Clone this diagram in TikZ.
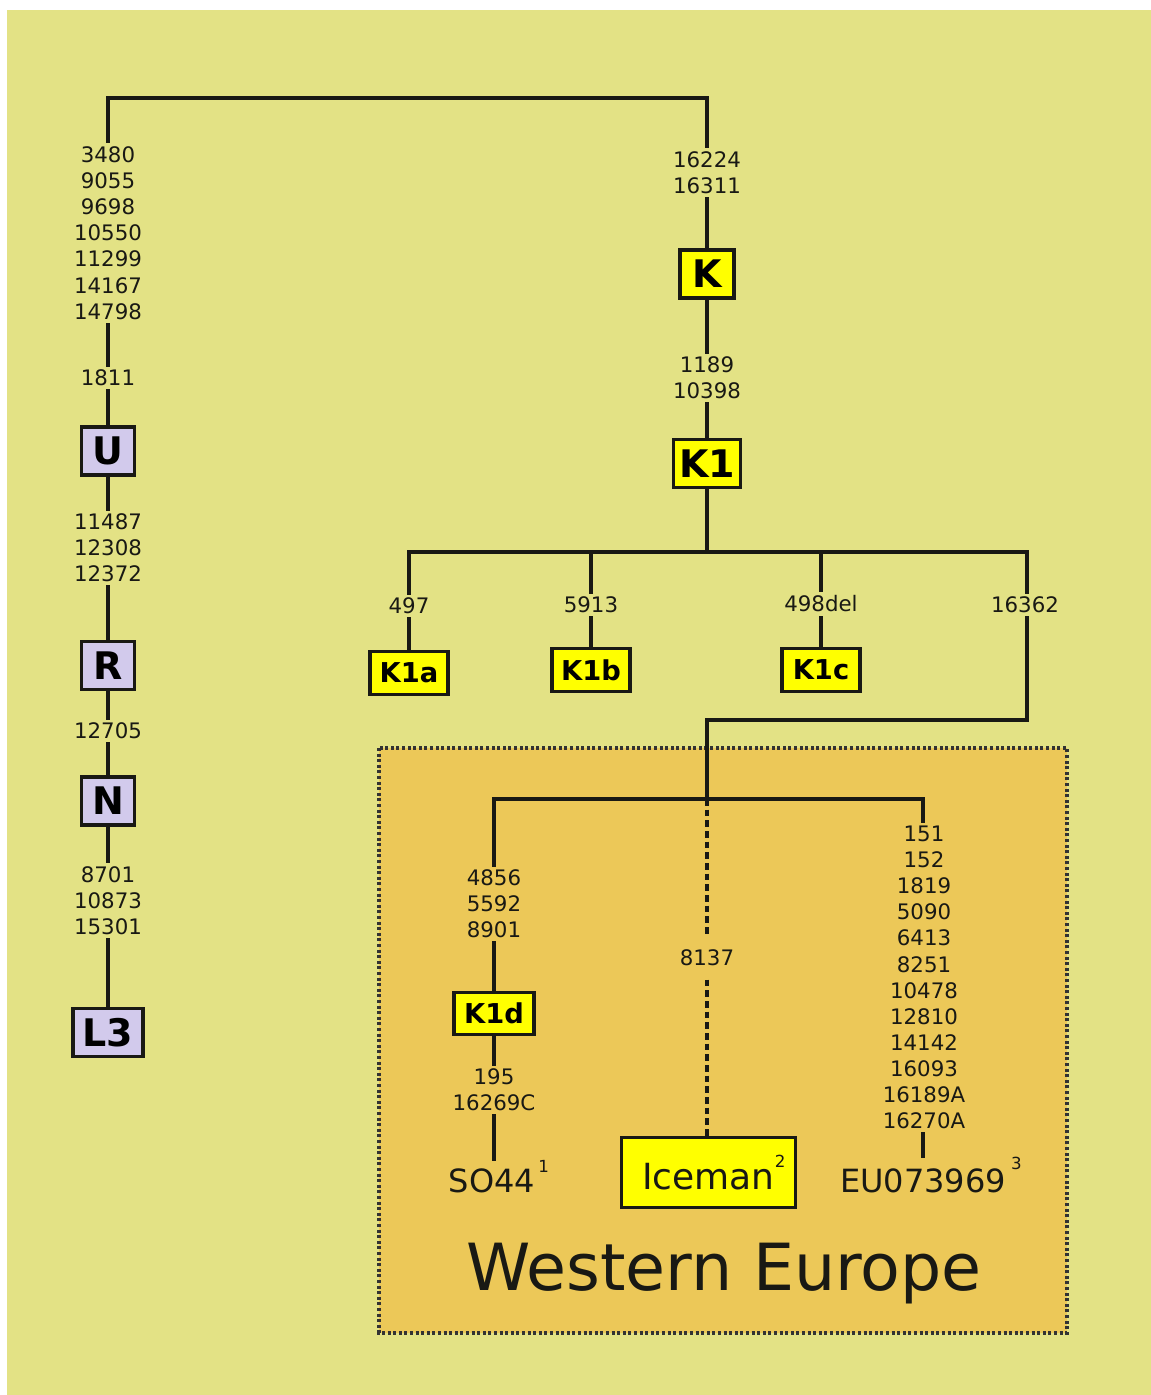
\documentclass[tikz,border=0pt]{standalone}
\usepackage{fontspec}
\setmainfont{DejaVu Sans}
\definecolor{bgc}{RGB}{227,226,133}
\definecolor{eur}{RGB}{236,200,88}
\definecolor{yel}{RGB}{255,255,0}
\definecolor{lav}{RGB}{210,202,236}
\definecolor{ink}{RGB}{25,25,20}
\begin{document}
\begin{tikzpicture}[x=0.75pt,y=-0.75pt,
  ln/.style={line width=2.5pt, draw=ink, line cap=rect},
  dln/.style={line width=2.5pt, draw=ink, dash pattern=on 5pt off 3pt},
  lab/.style={font=\fontsize{16}{19.6}\selectfont, text=ink, align=center, inner sep=3.5pt},
  bigbox/.style={draw=ink, line width=2.3pt, font=\bfseries\fontsize{28.5}{28}\selectfont, inner sep=0pt, minimum width=40pt, minimum height=36pt},
  lavbox/.style={bigbox, fill=lav},
  yelbox/.style={bigbox, fill=yel},
  smallbox/.style={draw=ink, line width=2.3pt, fill=yel, font=\bfseries\fontsize{20.5}{20}\selectfont, inner sep=0pt, minimum width=58.5pt, minimum height=32pt},
  leaf/.style={font=\fontsize{24}{24}\selectfont, text=ink, inner sep=0pt, anchor=base}
]
\useasboundingbox (0,0) rectangle (1151,1395);
\fill[white] (0,0) rectangle (1151,1395);
\fill[bgc] (7,10) rectangle (1151,1395);
\filldraw[fill=eur, draw=black!80, line width=2.3pt, dash pattern=on 2.2pt off 2pt] (379,748) rectangle (1067,1333);

% left chain
\node[lab] (a1) at (108,233) {3480\\9055\\9698\\10550\\11299\\14167\\14798};
\node[lab] (a2) at (108,378) {1811};
\node[lavbox] (U) at (108,451) {U};
\node[lab] (a3) at (108,548) {11487\\12308\\12372};
\node[lavbox] (R) at (108,665.5) {R};
\node[lab] (a4) at (108,731) {12705};
\node[lavbox] (N) at (108,801) {N};
\node[lab] (a5) at (108,900.5) {8701\\10873\\15301};
\node[lavbox, minimum width=52.5pt] (L3) at (108,1032.5) {L3};

% right chain
\node[lab] (b1) at (707,172.5) {16224\\16311};
\node[yelbox, minimum width=40.5pt] (K) at (707,274) {K};
\node[lab] (b2) at (707,378) {1189\\10398};
\node[yelbox, minimum width=50pt] (K1) at (707,463.5) {K1};

\node[lab] (c1) at (409,606) {497};
\node[smallbox] (K1a) at (409,673) {K1a};
\node[lab] (c2) at (591,605) {5913};
\node[smallbox] (K1b) at (591,670) {K1b};
\node[lab] (c3) at (821,604) {498del};
\node[smallbox] (K1c) at (821,670) {K1c};
\node[lab] (c4) at (1025,605) {16362};

\node[lab] (d1) at (494,904) {4856\\5592\\8901};
\node[smallbox, minimum width=60pt] (K1d) at (494,1013.5) {K1d};
\node[lab] (d2) at (494,1090) {195\\16269C};
\node[leaf] (so) at (492,1192) {SO44\rlap{\hspace{2.5pt}\raisebox{15pt}{\fontsize{12.5}{12}\selectfont 1}}};

\node[lab, inner ysep=10pt] (e1) at (707,958) {8137};
\node[draw=ink, line width=2.3pt, fill=yel, minimum width=130.5pt, minimum height=53pt, inner sep=0pt, font=\fontsize{27}{27}\selectfont, text=ink] (ice) at (708.5,1172.5) {Iceman\rlap{\raisebox{17pt}{\fontsize{12.5}{12}\selectfont 2}}};

\node[lab] (f1) at (924,977.5) {151\\152\\1819\\5090\\6413\\8251\\10478\\12810\\14142\\16093\\16189A\\16270A};
\node[leaf] (eu) at (923,1192) {EU073969\rlap{\hspace{4pt}\raisebox{17pt}{\fontsize{12.5}{12}\selectfont 3}}};

\node[font=\fontsize{48.75}{50}\selectfont, text=ink, anchor=base, inner sep=0pt] (we) at (724,1290) {Western Europe};

% junction coordinates
\coordinate (tL) at (108,98);
\coordinate (tR) at (707,98);
\coordinate (j1) at (707,552);
\coordinate (jA) at (409,552);
\coordinate (jB) at (591,552);
\coordinate (jC) at (821,552);
\coordinate (jD) at (1027,552);
\coordinate (c5) at (1027,720);
\coordinate (c6) at (707,720);
\coordinate (j2) at (707,799);
\coordinate (jL) at (494,799);
\coordinate (jR) at (923,799);

% connectors
\draw[ln] (a1) -- (tL) -- (tR) -- (b1);
\draw[ln] (a1) -- (a2);
\draw[ln] (a2) -- (U);
\draw[ln] (U) -- (a3);
\draw[ln] (a3) -- (R);
\draw[ln] (R) -- (a4);
\draw[ln] (a4) -- (N);
\draw[ln] (N) -- (a5);
\draw[ln] (a5) -- (L3);

\draw[ln] (b1) -- (K);
\draw[ln] (K) -- (b2);
\draw[ln] (b2) -- (K1);
\draw[ln] (K1) -- (j1);
\draw[ln] (jA) -- (jD);
\draw[ln] (jA) -- (c1);
\draw[ln] (c1) -- (K1a);
\draw[ln] (jB) -- (c2);
\draw[ln] (c2) -- (K1b);
\draw[ln] (jC) -- (c3);
\draw[ln] (c3) -- (K1c);
\draw[ln] (jD) -- (jD |- c4.north);
\draw[ln] (jD |- c4.south) -- (c5) -- (c6) -- (j2);
\draw[ln] (jL) -- (jR);
\draw[ln] (jL) -- (d1);
\draw[ln] (d1) -- (K1d);
\draw[ln] (K1d) -- (d2);
\draw[ln] (d2) -- (d2 |- so.north);
\draw[ln] (jR) -- (jR |- f1.north);
\draw[ln] (jR |- f1.south) -- (jR |- eu.north);
\draw[dln] (j2) -- (e1);
\draw[dln] (e1) -- (e1 |- ice.north);
\end{tikzpicture}
\end{document}
